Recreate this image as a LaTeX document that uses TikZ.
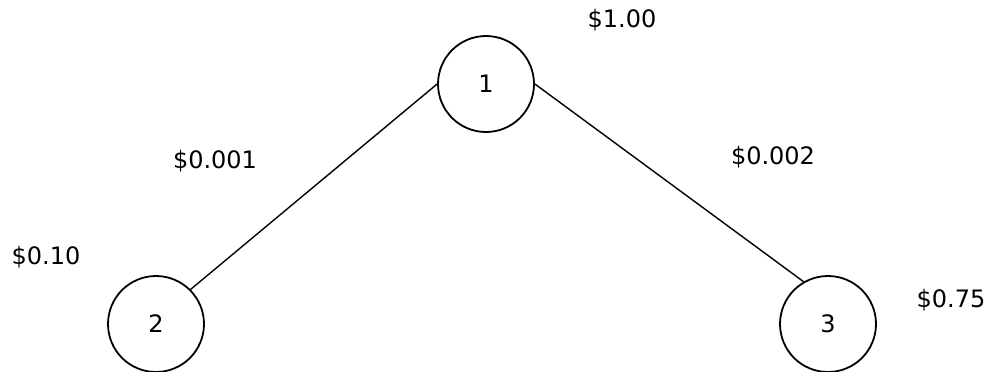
\documentclass[tikz,border=0pt]{standalone}
\usepackage{fontspec}
\setmainfont{DejaVu Sans}
\usepackage{tikz}

\begin{document}
\begin{tikzpicture}[
    x=0.5pt, y=-0.5pt,
    vertex/.style={circle, draw, line width=0.9pt, minimum size=48pt, inner sep=0pt, font=\fontsize{12}{14}\selectfont},
    cost/.style={font=\fontsize{12}{14}\selectfont, inner sep=0pt},
    line width=0.7pt
]
  \useasboundingbox (0,0) rectangle (990,371);

  % --- VERTICES ---
  \node[vertex] (n1) at (486,84) {1};
  \node[vertex] (n2) at (156,324) {2};
  \node[vertex] (n3) at (828,324) {3};

  % --- COSTS ---
  \node[cost] (c1) at (622,20) {\$1.00};
  \node[cost] (c2) at (46,257) {\$0.10};
  \node[cost] (c3) at (951,300) {\$0.75};
  \node[cost] (c12) at (215,161) {\$0.001};
  \node[cost] (c13) at (773,157) {\$0.002};

  % --- EDGES ---
  \draw (n1.west) -- (n2.north east);
  \draw (n1.east) -- (n3.120);
\end{tikzpicture}
\end{document}
